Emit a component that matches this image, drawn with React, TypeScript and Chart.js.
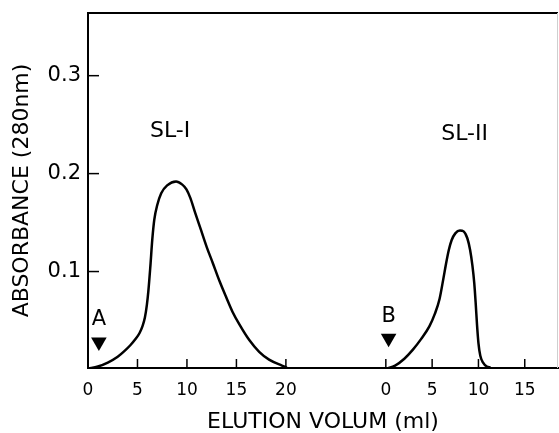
import React, { useEffect, useRef } from "react";
import { Chart, registerables } from "chart.js";

Chart.register(...registerables);

// ---- Data ----
// Panel A: SL-I elution profile
const sl1Volume = [0, 1, 2, 3, 3.7, 4.3, 4.8, 5.2, 5.5, 5.75, 5.95, 6.1, 6.3, 6.5, 6.7, 7.0, 7.4, 8.0, 8.9, 9.5, 9.95, 10.35, 10.8, 11.4, 12.0, 12.6, 13.3, 14.0, 14.6, 15.3, 16.3, 17.3, 18.3, 19.6, 20.1];
const sl1Absorbance = [0.001, 0.003, 0.007, 0.013, 0.019, 0.025, 0.031, 0.037, 0.044, 0.053, 0.066, 0.08, 0.105, 0.133, 0.153, 0.168, 0.18, 0.188, 0.192, 0.189, 0.184, 0.175, 0.161, 0.143, 0.125, 0.109, 0.09, 0.073, 0.059, 0.046, 0.03, 0.018, 0.01, 0.004, 0.002];

// Panel B: SL-II elution profile
const sl2Volume = [0.1, 1, 2, 2.9, 3.8, 4.7, 5.3, 5.8, 6.2, 6.5, 6.8, 7.1, 7.5, 8.0, 8.4, 8.8, 9.1, 9.35, 9.55, 9.7, 9.85, 10.0, 10.2, 10.5, 10.9, 11.3];
const sl2Absorbance = [0.001, 0.004, 0.011, 0.02, 0.031, 0.044, 0.057, 0.072, 0.092, 0.108, 0.122, 0.132, 0.139, 0.142, 0.141, 0.134, 0.122, 0.106, 0.088, 0.068, 0.045, 0.027, 0.014, 0.007, 0.003, 0.002];

// Axis ticks
const panel1Ticks = [0, 5, 10, 15, 20];
const panel2Ticks = [0, 5, 10, 15];
const yTicks = [0.1, 0.2, 0.3];

// Annotations
const peakLabels = ["SL-I", "SL-II"];
const peakVolume = [8.3, 8.5];
const peakAbs = [0.243, 0.24];
const markerLabels = ["A", "B"];
const markerVolume = [1.1, 0.3];
const markerAbs = [0.028, 0.032];
const markerLabelAbs = [0.051, 0.054];

// Axis layout (panel B sits on its own scale along the same frame)
const X1_MAX = 47.5;
const P2_OFFSET = 30.1; // panel-B origin expressed in panel-A units
const P2_RATIO = 0.936; // panel-B ml per panel-A ml on paper

const FONT = '"DejaVu Sans", sans-serif';
const xTickLabels = [...panel1Ticks, ...panel2Ticks].map(String);

const zeroPad = (s: any) => {
  s.paddingTop = 0;
  s.paddingBottom = 0;
  s.paddingLeft = 0;
  s.paddingRight = 0;
};

const decor = {
  id: "decor",
  afterDatasetsDraw(chart: any) {
    const { ctx, chartArea: a, scales } = chart;
    const x = scales.x;
    const x2 = scales.x2;
    const y = scales.y;
    ctx.save();
    // frame top
    ctx.strokeStyle = "#000";
    ctx.lineWidth = 2;
    ctx.beginPath();
    ctx.moveTo(a.left - 1, a.top);
    ctx.lineTo(a.right, a.top);
    ctx.stroke();
    // faint right edge
    ctx.strokeStyle = "#cfcfcf";
    ctx.lineWidth = 1;
    ctx.beginPath();
    ctx.moveTo(a.right - 0.5, a.top);
    ctx.lineTo(a.right - 0.5, a.bottom);
    ctx.stroke();
    // inward tick marks
    ctx.strokeStyle = "#000";
    ctx.lineWidth = 1.5;
    yTicks.forEach((v) => {
      const py = y.getPixelForValue(v);
      ctx.beginPath();
      ctx.moveTo(a.left, py);
      ctx.lineTo(a.left + 11, py);
      ctx.stroke();
    });
    const xt = (px: number) => {
      ctx.beginPath();
      ctx.moveTo(px, a.bottom);
      ctx.lineTo(px, a.bottom - 9);
      ctx.stroke();
    };
    panel1Ticks.forEach((v) => xt(x.getPixelForValue(v)));
    panel2Ticks.forEach((v) => xt(x2.getPixelForValue(v)));
    // text annotations
    ctx.fillStyle = "#000";
    ctx.textAlign = "center";
    ctx.textBaseline = "middle";
    ctx.font = `22px ${FONT}`;
    peakLabels.forEach((t, i) => {
      const sx = i === 0 ? x : x2;
      ctx.fillText(t, sx.getPixelForValue(peakVolume[i]), y.getPixelForValue(peakAbs[i]));
    });
    ctx.font = `21px ${FONT}`;
    markerLabels.forEach((t, i) => {
      const sx = i === 0 ? x : x2;
      ctx.fillText(t, sx.getPixelForValue(markerVolume[i]), y.getPixelForValue(markerLabelAbs[i]));
    });
    ctx.restore();
  },
};

export default function App() {
  const ref = useRef<HTMLCanvasElement | null>(null);

  useEffect(() => {
    if (!ref.current) return;
    const lineStyle = {
      borderColor: "#000",
      borderWidth: 2.5,
      pointRadius: 0,
      fill: false,
      cubicInterpolationMode: "monotone" as const,
    };
    const markerStyle = {
      showLine: false,
      pointStyle: "triangle" as const,
      rotation: 180,
      pointRadius: 9,
      backgroundColor: "#000",
      borderColor: "#000",
      borderWidth: 0,
    };
    const chart = new Chart(ref.current, {
      type: "line",
      data: {
        datasets: [
          {
            ...lineStyle,
            label: peakLabels[0],
            xAxisID: "x",
            data: sl1Volume.map((v, i) => ({ x: v, y: sl1Absorbance[i] })),
          },
          {
            ...lineStyle,
            label: peakLabels[1],
            xAxisID: "x2",
            data: sl2Volume.map((v, i) => ({ x: v, y: sl2Absorbance[i] })),
          },
          {
            ...markerStyle,
            label: markerLabels[0],
            xAxisID: "x",
            data: [{ x: markerVolume[0], y: markerAbs[0] }],
          },
          {
            ...markerStyle,
            label: markerLabels[1],
            xAxisID: "x2",
            data: [{ x: markerVolume[1], y: markerAbs[1] }],
          },
        ],
      },
      options: {
        animation: false,
        responsive: false,
        layout: { autoPadding: false, padding: { top: 13, right: 1, left: 0, bottom: 0 } },
        plugins: { legend: { display: false }, tooltip: { enabled: false } },
        scales: {
          x: {
            type: "linear",
            min: 0,
            max: X1_MAX,
            afterBuildTicks: (s: any) => {
              s.ticks = [
                ...panel1Ticks.map((v) => ({ value: v })),
                ...panel2Ticks.map((v) => ({ value: P2_OFFSET + v * P2_RATIO })),
              ];
            },
            afterFit: (s: any) => {
              s.height = 65;
              zeroPad(s);
            },
            grid: { display: false, drawTicks: false },
            border: { display: true, color: "#000", width: 2 },
            ticks: {
              autoSkip: false,
              maxRotation: 0,
              padding: 12,
              color: "#000",
              font: { family: FONT, size: 17 },
              callback: (_v: any, i: number) => xTickLabels[i],
            },
            title: {
              display: true,
              text: "ELUTION VOLUM (ml)",
              color: "#000",
              font: { family: FONT, size: 22 },
              padding: { top: 0, bottom: -2 },
            },
          },
          x2: {
            type: "linear",
            display: false,
            min: -P2_OFFSET / P2_RATIO,
            max: (X1_MAX - P2_OFFSET) / P2_RATIO,
            afterFit: zeroPad,
          },
          y: {
            type: "linear",
            min: 0.0015,
            max: 0.364,
            afterBuildTicks: (s: any) => {
              s.ticks = yTicks.map((v) => ({ value: v }));
            },
            afterFit: (s: any) => {
              s.width = 88;
              zeroPad(s);
            },
            grid: { display: false, drawTicks: false },
            border: { display: true, color: "#000", width: 2 },
            ticks: {
              padding: 7,
              color: "#000",
              font: { family: FONT, size: 21 },
              callback: (v: any) => Number(v).toFixed(1),
            },
            title: {
              display: true,
              text: "ABSORBANCE (280nm)",
              color: "#000",
              font: { family: FONT, size: 22 },
              padding: { top: 9, bottom: 0 },
            },
          },
        },
      },
      plugins: [decor],
    });
    return () => chart.destroy();
  }, []);

  return (
    <div style={{ position: "fixed", left: 0, top: 0, width: 559, height: 433, background: "#fff" }}>
      <canvas ref={ref} width={559} height={433} style={{ display: "block" }} />
    </div>
  );
}
